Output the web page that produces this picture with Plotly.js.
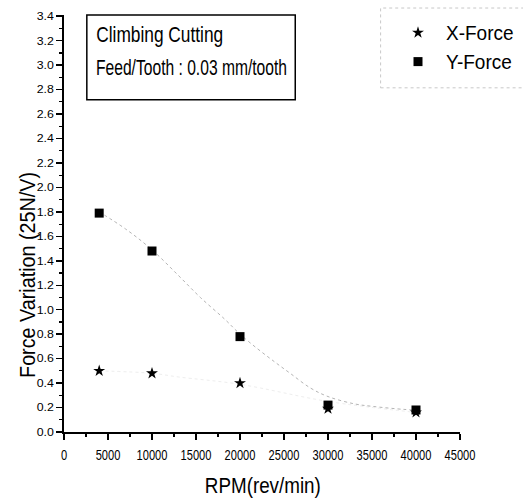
<!DOCTYPE html>
<html>
<head>
<meta charset="utf-8">
<script src="https://cdn.plot.ly/plotly-3.0.1.min.js"></script>
<style>html,body{margin:0;padding:0;background:#fff;}#chart{width:523px;height:502px;}</style>
</head>
<body>
<div id="chart"></div>
<script>
// RPM values (rev/min)
var rpm = [4000, 10000, 20000, 30000, 40000];
// Force variation, X direction (25N/V)
var xForce = [0.50, 0.48, 0.40, 0.19, 0.16];
// Force variation, Y direction (25N/V)
var yForce = [1.79, 1.48, 0.78, 0.22, 0.18];
// Smoothed fit curve through the Y-force data
var fitRpm = [4000, 7000, 10000, 13000, 15500, 18300, 20000, 22000, 24000, 25700, 28000, 30000, 33000, 35000, 38600, 40000];
var fitY   = [1.80, 1.66, 1.49, 1.28, 1.10, 0.92, 0.80, 0.68, 0.57, 0.48, 0.36, 0.29, 0.23, 0.21, 0.185, 0.18];
// Faint fit curve through the X-force data
var fitXRpm = [4000, 10000, 13000, 20000, 30000, 40000];
var fitX    = [0.50, 0.48, 0.45, 0.39, 0.25, 0.16];

var xTicks = [0, 5000, 10000, 15000, 20000, 25000, 30000, 35000, 40000, 45000];
var yTicks = [0.0, 0.2, 0.4, 0.6, 0.8, 1.0, 1.2, 1.4, 1.6, 1.8, 2.0, 2.2, 2.4, 2.6, 2.8, 3.0, 3.2, 3.4];

var boxLines = ['Climbing Cutting', 'Feed/Tooth : 0.03 mm/tooth'];
var seriesNames = ['X-Force', 'Y-Force'];
var xTitle = 'RPM(rev/min)';
var yTitle = 'Force Variation (25N/V)';

var FONT = '"Liberation Sans", Arial, sans-serif';

var traces = [
  {x: fitXRpm, y: fitX, mode: 'lines', line: {color: '#eeeeee', width: 1, dash: 'dot', shape: 'spline'}, showlegend: false, hoverinfo: 'skip'},
  {x: fitRpm, y: fitY, mode: 'lines', line: {color: '#b4b4b4', width: 1, dash: 'dot', shape: 'spline'}, showlegend: false, hoverinfo: 'skip'},
  {x: rpm, y: xForce, name: seriesNames[0], mode: 'markers', marker: {symbol: 'star', size: 9, color: '#000'}},
  {x: rpm, y: yForce, name: seriesNames[1], mode: 'markers', marker: {symbol: 'square', size: 9, color: '#000'}}
];

var L = 64, R = 463, T = 14, B = 432;
function px(v) { return (v - L) / (R - L); }
function py(v) { return (B - v) / (B - T); }

var layout = {
  width: 523, height: 502,
  margin: {l: L, r: 523 - R, t: T, b: 502 - B, pad: 0},
  paper_bgcolor: '#fff', plot_bgcolor: '#fff',
  font: {family: FONT, color: '#000'},
  showlegend: true,
  legend: {
    x: px(380), y: py(11), xanchor: 'left', yanchor: 'top',
    bgcolor: 'rgba(0,0,0,0)', borderwidth: 0,
    font: {family: FONT, size: 20, color: '#000'},
    itemwidth: 46
  },
  xaxis: {
    range: [0, 45000], tickvals: xTicks, ticktext: xTicks.map(String), tickangle: 0, automargin: false,
    showgrid: false, zeroline: false, showline: true, linecolor: '#000', linewidth: 2,
    ticks: 'outside', ticklen: 6, tickwidth: 1.5, tickcolor: '#000',
    minor: {dtick: 2500, tick0: 0, ticks: 'outside', ticklen: 3, tickwidth: 1.5, tickcolor: '#000'},
    tickfont: {family: FONT, size: 15, color: '#000'}, ticklabelstandoff: 2,
    fixedrange: true
  },
  yaxis: {
    range: [0, 3.41], tickvals: yTicks, ticktext: yTicks.map(function (v) { return v.toFixed(1); }), automargin: false,
    showgrid: false, zeroline: false, showline: true, linecolor: '#000', linewidth: 2,
    ticks: 'outside', ticklen: 6, tickwidth: 1.5, tickcolor: '#000',
    minor: {dtick: 0.1, tick0: 0, ticks: 'outside', ticklen: 3, tickwidth: 1.2, tickcolor: '#000'},
    tickfont: {family: FONT, size: 11, color: '#000'},
    fixedrange: true
  },
  shapes: [
    {type: 'rect', xref: 'paper', yref: 'paper', x0: px(87), x1: px(297), y0: py(99), y1: py(14), line: {color: '#000', width: 1.5}},
    {type: 'rect', xref: 'paper', yref: 'paper', x0: px(383), x1: px(530), y0: py(87), y1: py(7), line: {color: '#c8c8c8', width: 1, dash: 'dot'}}
  ],
  annotations: [
    {xref: 'paper', yref: 'paper', x: px(97 + 127 / 2), y: py(34), xanchor: 'center', yanchor: 'middle', text: boxLines[0], showarrow: false, font: {family: FONT, size: 22, color: '#000'}},
    {xref: 'paper', yref: 'paper', x: px(97 + 191 / 2), y: py(67), xanchor: 'center', yanchor: 'middle', text: boxLines[1], showarrow: false, font: {family: FONT, size: 22, color: '#000'}},
    {xref: 'paper', yref: 'paper', x: px(265), y: py(486), xanchor: 'center', yanchor: 'middle', text: xTitle, showarrow: false, font: {family: FONT, size: 22, color: '#000'}},
    {xref: 'paper', yref: 'paper', x: px(27), y: py(275), xanchor: 'center', yanchor: 'middle', textangle: -90, text: yTitle, showarrow: false, font: {family: FONT, size: 22, color: '#000'}}
  ]
};

// target rendered widths (px) of the annotation texts, to mimic the condensed typeface
var annoWidths = [127, 191, 116, 206];
// where the first legend symbol should sit (px)
var legendSymbolPos = [418, 32];

Plotly.newPlot('chart', traces, layout, {displayModeBar: false, staticPlot: true}).then(function (gd) {
  function squeeze(t, target) {
    t.setAttribute('textLength', target);
    t.setAttribute('lengthAdjust', 'spacingAndGlyphs');
  }
  gd.querySelectorAll('.annotation').forEach(function (g) {
    var i = +g.getAttribute('data-index');
    var t = g.querySelector('text.annotation-text');
    if (t && annoWidths[i]) squeeze(t, annoWidths[i]);
  });
  gd.querySelectorAll('.xtick text').forEach(function (t) { squeeze(t, t.getComputedTextLength() * 0.74); });
  gd.querySelectorAll('.ytick text').forEach(function (t) { squeeze(t, t.getComputedTextLength() * 1.12); });
  gd.querySelectorAll('.legendtext').forEach(function (t) { squeeze(t, t.getComputedTextLength() * 0.95); });

  // nudge the legend so its symbols line up with the reference
  var leg = gd.querySelector('g.legend');
  var pt = gd.querySelector('g.legend .legendpoints path');
  if (leg && pt) {
    var host = gd.getBoundingClientRect();
    var r = pt.getBoundingClientRect();
    var cx = r.left + r.width / 2 - host.left, cy = r.top + r.height / 2 - host.top;
    var m = /translate\(\s*([-\d.e]+)[ ,]+([-\d.e]+)\s*\)/.exec(leg.getAttribute('transform') || '');
    var tx = m ? +m[1] : 0, ty = m ? +m[2] : 0;
    leg.setAttribute('transform', 'translate(' + (tx + legendSymbolPos[0] - cx) + ',' + (ty + legendSymbolPos[1] - cy) + ')');
  }
});
</script>
</body>
</html>
